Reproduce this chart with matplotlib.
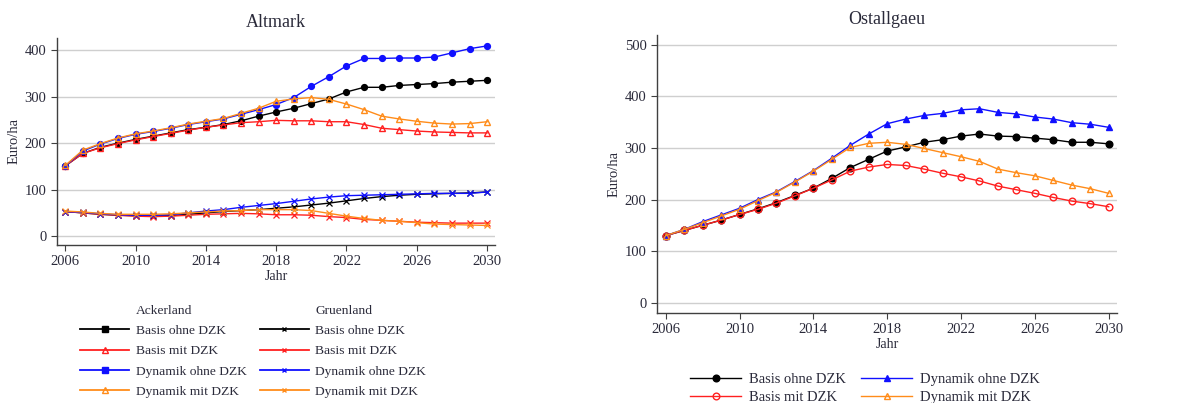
import matplotlib
matplotlib.use("Agg")
import matplotlib.pyplot as plt
from matplotlib.lines import Line2D

plt.rcParams['font.family'] = ['Liberation Serif', 'DejaVu Serif']

years = list(range(2006, 2031))

# Altmark - Ackerland
alt_acker_basis_ohne = [151, 178, 191, 200, 208, 215, 222, 229, 234, 240, 248, 258, 267, 275, 285,
                        295, 310, 320, 320, 324, 326, 328, 331, 333, 335]
alt_acker_basis_mit = [151, 178, 190, 199, 207, 214, 221, 228, 234, 239, 244, 246, 249, 248, 248,
                       246, 246, 240, 232, 229, 226, 224, 223, 222, 222]
alt_acker_dyn_ohne = [151, 183, 198, 210, 219, 225, 232, 240, 246, 252, 262, 272, 283, 298, 322,
                      343, 366, 382, 382, 383, 383, 385, 394, 403, 409]
alt_acker_dyn_mit = [152, 185, 199, 211, 220, 226, 233, 241, 247, 253, 264, 275, 290, 295, 298,
                     294, 284, 272, 258, 252, 247, 243, 241, 242, 246]
# Altmark - Gruenland
alt_gruen_basis_ohne = [53, 50, 47, 45, 44, 43, 44, 47, 50, 53, 55, 57, 60, 63, 67,
                        71, 76, 81, 85, 88, 90, 91, 92, 93, 95]
alt_gruen_basis_mit = [53, 50, 47, 45, 43, 42, 43, 45, 47, 48, 49, 48, 46, 46, 45,
                       42, 40, 36, 34, 32, 30, 29, 28, 28, 28]
alt_gruen_dyn_ohne = [53, 51, 48, 46, 45, 45, 46, 50, 54, 57, 62, 66, 70, 75, 80,
                      84, 87, 88, 89, 90, 91, 92, 92, 92, 95]
alt_gruen_dyn_mit = [54, 52, 49, 47, 47, 47, 48, 50, 52, 54, 55, 57, 57, 57, 55,
                     49, 43, 38, 34, 32, 29, 26, 25, 24, 23]

# Ostallgaeu
ost_basis_ohne = [130, 140, 150, 160, 171, 182, 194, 208, 222, 241, 262, 278, 294, 302, 311,
                  316, 323, 327, 323, 322, 319, 316, 311, 311, 308]
ost_basis_mit = [130, 140, 150, 160, 171, 181, 193, 207, 222, 238, 255, 263, 268, 266, 259,
                 251, 244, 236, 226, 219, 212, 204, 197, 192, 186]
ost_dyn_ohne = [130, 142, 157, 170, 183, 200, 215, 235, 256, 280, 305, 327, 347, 356, 363,
                367, 374, 376, 369, 366, 360, 356, 349, 346, 340]
ost_dyn_mit = [130, 142, 155, 168, 181, 198, 214, 234, 255, 278, 301, 309, 311, 307, 299,
               291, 283, 274, 259, 252, 246, 237, 228, 221, 212]

labels = ['Basis ohne DZK', 'Basis mit DZK', 'Dynamik ohne DZK', 'Dynamik mit DZK']
colors = ['black', '#ff2020', '#1010ff', '#ff8c1a']
txt_color = '#2a2a3a'

fig = plt.figure(figsize=(11.88, 4.03), dpi=100)
ax1 = fig.add_axes([57 / 1188, 1 - 245 / 403, 438 / 1188, 207 / 403])
ax2 = fig.add_axes([657 / 1188, 1 - 313 / 403, 460 / 1188, 278 / 403])


def style_axis(ax, ylim, yticks):
    ax.set_xlim(2005.53, 2030.45)
    ax.set_ylim(*ylim)
    ax.set_xticks(range(2006, 2031, 4))
    ax.set_yticks(yticks)
    for s in ['top', 'right']:
        ax.spines[s].set_visible(False)
    for s in ['left', 'bottom']:
        ax.spines[s].set_color('#404040')
        ax.spines[s].set_linewidth(1.0)
    ax.yaxis.grid(True, color='#cfcfcf', linewidth=1.0)
    ax.set_axisbelow(True)
    ax.tick_params(colors='#404040', labelcolor=txt_color, labelsize=10.5, length=4)
    ax.set_xlabel('Jahr', fontsize=10, color=txt_color, labelpad=1)
    ax.set_ylabel('Euro/ha', fontsize=10.5, color=txt_color, labelpad=3)


# Altmark
acker = [alt_acker_basis_ohne, alt_acker_basis_mit, alt_acker_dyn_ohne, alt_acker_dyn_mit]
gruen = [alt_gruen_basis_ohne, alt_gruen_basis_mit, alt_gruen_dyn_ohne, alt_gruen_dyn_mit]
acker_mk = [('o', 'full'), ('^', 'none'), ('o', 'full'), ('^', 'none')]
for vals, c, (m, fs) in zip(acker, colors, acker_mk):
    ax1.plot(years, vals, color=c, lw=1.0, marker=m, ms=4.2, fillstyle=fs, mew=1.0)
for vals, c in zip(gruen, colors):
    ax1.plot(years, vals, color=c, lw=1.0, marker='x', ms=4, mew=0.9)
style_axis(ax1, (-19, 426), [0, 100, 200, 300, 400])
ax1.set_title('Altmark', fontsize=13, color=txt_color, pad=8)

leg_acker_mk = [('s', 'full'), ('^', 'none'), ('s', 'full'), ('^', 'none')]
handles = [Line2D([], [], linestyle='none', marker='none')]
handles += [Line2D([], [], color=c, lw=1.3, marker=m, fillstyle=fs, ms=4.5)
            for c, (m, fs) in zip(colors, leg_acker_mk)]
handles += [Line2D([], [], linestyle='none', marker='none')]
handles += [Line2D([], [], color=c, lw=1.3, marker='x', ms=3.5) for c in colors]
leg_labels = ['Ackerland'] + labels + ['Gruenland'] + labels
fig.legend(handles, leg_labels, ncol=2, frameon=False, fontsize=9.7,
           loc='upper left', bbox_to_anchor=(71 / 1188, 1 - 295 / 403),
           handlelength=3.6, handletextpad=0.5, labelspacing=0.58, columnspacing=1.0,
           labelcolor=txt_color, borderpad=0.2)

# Ostallgaeu
ost = [ost_basis_ohne, ost_basis_mit, ost_dyn_ohne, ost_dyn_mit]
ost_mk = [('o', 'full'), ('o', 'none'), ('^', 'full'), ('^', 'none')]
ost_handles = []
for vals, c, (m, fs), lab in zip(ost, colors, ost_mk, labels):
    h, = ax2.plot(years, vals, color=c, lw=1.0, marker=m, ms=4.8, fillstyle=fs, mew=1.0, label=lab)
    ost_handles.append(h)
style_axis(ax2, (-20, 519), [0, 100, 200, 300, 400, 500])
ax2.set_title('Ostallgaeu', fontsize=13, color=txt_color, pad=8)
fig.legend(ost_handles, labels, ncol=2, frameon=False, fontsize=10.5,
           loc='upper left', bbox_to_anchor=(680 / 1188, 1 - 363 / 403),
           handlelength=3.5, handletextpad=0.5, labelspacing=0.3, columnspacing=1.1,
           labelcolor=txt_color, borderpad=0.2)

fig.savefig('out.png', dpi=100)
